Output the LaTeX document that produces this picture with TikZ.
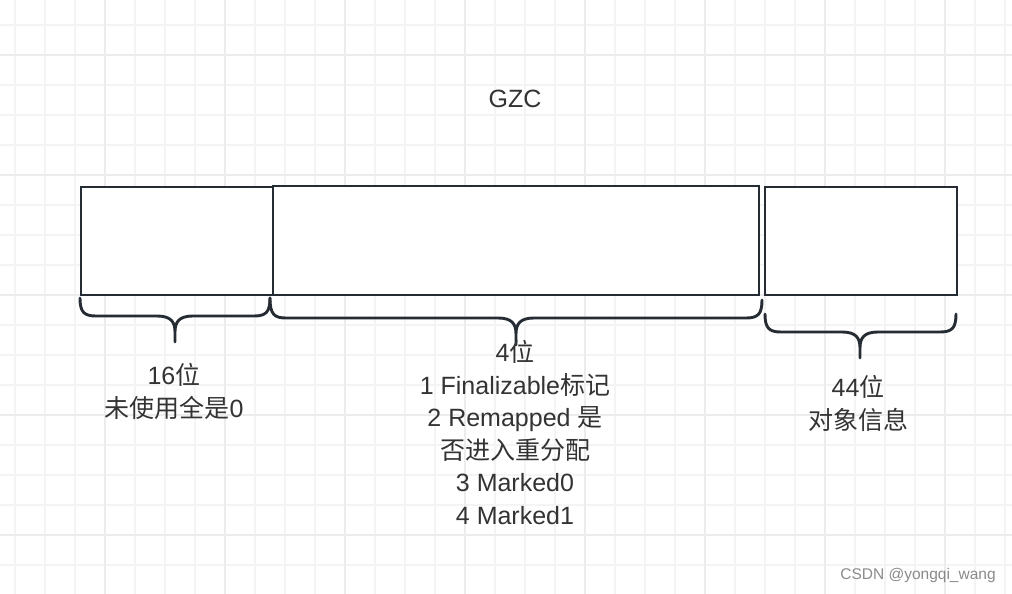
\documentclass[tikz,border=0pt]{standalone}
\usepackage{fontspec}
\setmainfont{Liberation Sans}
\newfontfamily\cjk{Noto Sans CJK SC}
\definecolor{gminor}{HTML}{F4F4F4}
\definecolor{gmajor}{HTML}{ECECEC}
\definecolor{ink}{HTML}{262C33}
\definecolor{txtc}{HTML}{333333}
\definecolor{wmark}{HTML}{8A8A8A}
\tikzset{
  minorgrid/.style={draw=gminor, line width=1.2pt},
  majorgrid/.style={draw=gmajor, line width=1.5pt},
  cell/.style={draw=ink, line width=2.9pt, fill=white, inner sep=0pt},
  bracket/.style={draw=ink, line width=2.9pt, line join=round, line cap=round},
  txt/.style={text=txtc, align=center, inner sep=0pt, font=\fontsize{25}{32.5}\selectfont},
  wm/.style={text=wmark, inner sep=0pt, font=\fontsize{15.5}{18}\selectfont}
}
\begin{document}
\begin{tikzpicture}[x=1pt,y=-1pt]
\useasboundingbox (0,0) rectangle (1012,594);
\fill[white] (0,0) rectangle (1012,594);
% grid
\foreach \x in {15,45,...,1005} \draw[minorgrid] (\x,0) -- (\x,594);
\foreach \y in {25,55,...,565} \draw[minorgrid] (0,\y) -- (1012,\y);
\foreach \x in {105,225,...,945} \draw[majorgrid] (\x,0) -- (\x,594);
\foreach \y in {55,175,...,535} \draw[majorgrid] (0,\y) -- (1012,\y);
% title
\node[txt] (title) at (515,99) {GZC};
% boxes
\node[cell, minimum width=192pt, minimum height=108pt] (b1) at (177,241) {};
\node[cell, minimum width=486pt, minimum height=109pt] (b2) at (516,240.5) {};
\node[cell, minimum width=192pt, minimum height=108pt] (b3) at (861,241) {};
% braces
\draw[bracket] (80,298) .. controls (80,312) and (84,316) .. (96,316)
  -- (157,316) .. controls (171,316) and (175,322) .. (175,332) -- (175,342)
  (175,332) .. controls (175,322) and (179,316) .. (193,316)
  -- (254,316) .. controls (266,316) and (270,312) .. (270,298);
\draw[bracket] (270,298) .. controls (270,314) and (274,318) .. (286,318)
  -- (498,318) .. controls (512,318) and (516,324) .. (516,334) -- (516,345)
  (516,334) .. controls (516,324) and (520,318) .. (534,318)
  -- (746,318) .. controls (758,318) and (762,314) .. (762,300);
\draw[bracket] (765,314) .. controls (765,328) and (769,332) .. (781,332)
  -- (842,332) .. controls (856,332) and (860,338) .. (860,348) -- (860,358)
  (860,348) .. controls (860,338) and (864,332) .. (878,332)
  -- (940,332) .. controls (952,332) and (956,328) .. (956,314);
% labels
\node[txt] (l1) at (174,391.5) {16{\cjk 位}\\{\cjk 未使用全是}0};
\node[txt] (l2) at (515,432.5) {4{\cjk 位}\\1 Finalizable{\cjk 标记}\\2 Remapped {\cjk 是}\\{\cjk 否进入重分配}\\3 Marked0\\4 Marked1};
\node[txt] (l3) at (858,403.5) {44{\cjk 位}\\{\cjk 对象信息}};
\node[wm] (wmk) at (918,575) {CSDN @yongqi\_wang};
\end{tikzpicture}
\end{document}
